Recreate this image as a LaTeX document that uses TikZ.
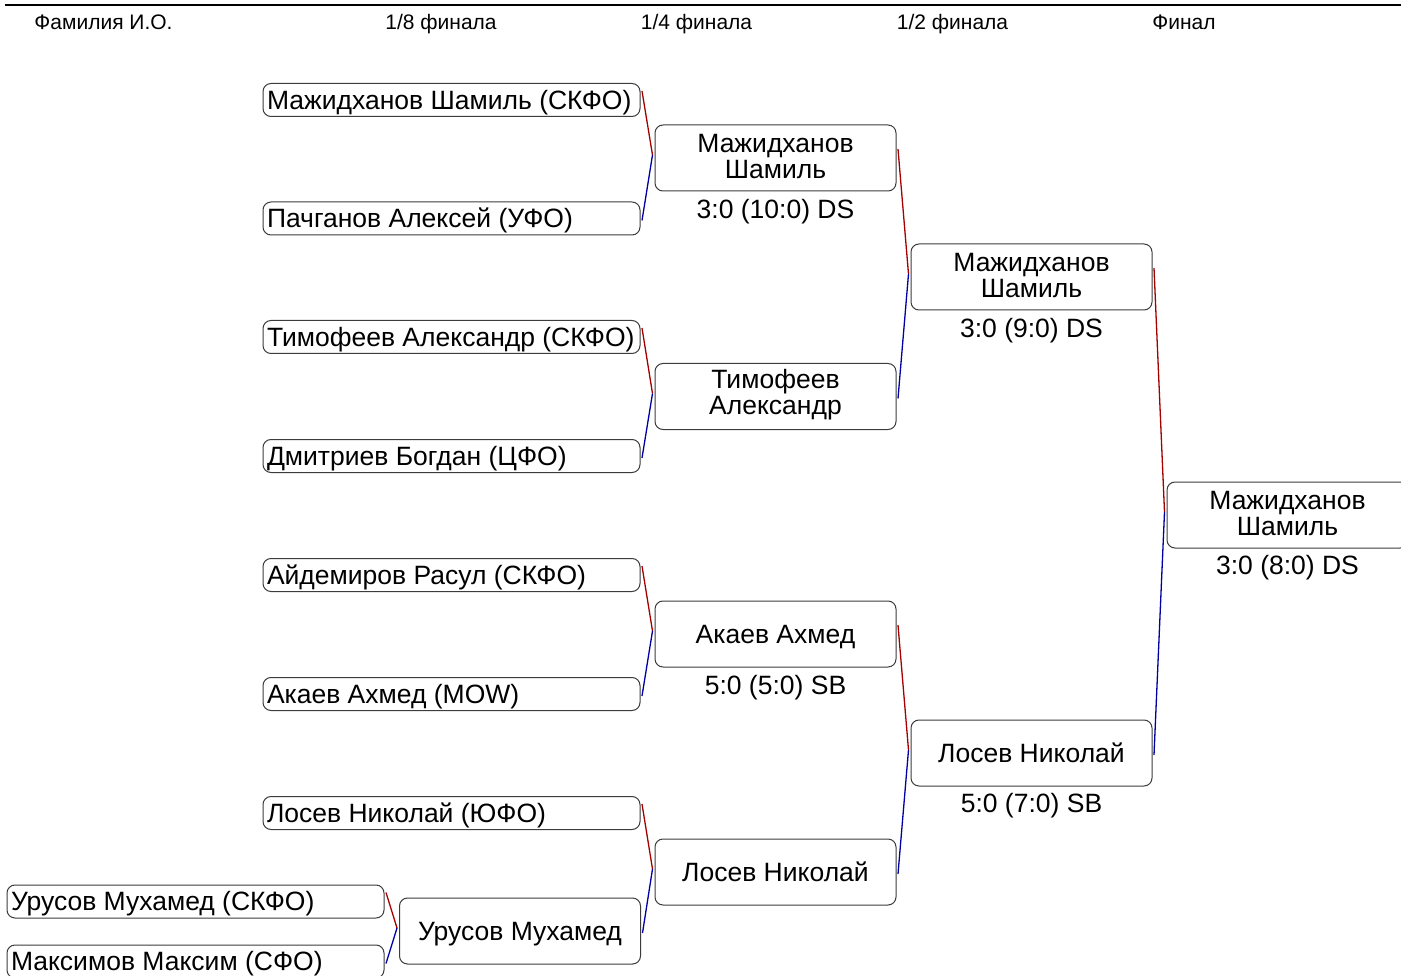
\documentclass[tikz,border=0pt]{standalone}
\usepackage{fontspec}
\setmainfont{Liberation Sans}
\usetikzlibrary{calc}
\definecolor{lred}{RGB}{165,0,0}
\definecolor{lblue}{RGB}{0,0,165}
\definecolor{bord}{RGB}{60,60,60}
\tikzset{
  box/.style={draw=bord, line width=1pt, rounded corners=8pt, fill=white, inner sep=0pt,
    font=\fontsize{26.5}{26}\selectfont},
  one/.style={text height=21pt, text depth=2.2pt},
  lbox/.style={box, one, minimum width=377pt, minimum height=33pt},
  wbox/.style={box, minimum width=241pt, minimum height=66pt, align=center},
  score/.style={font=\fontsize{26.5}{26}\selectfont, inner sep=0pt},
  head/.style={font=\fontsize{21}{23}\selectfont, inner sep=0pt, anchor=base},
  redl/.style={draw=lred, line width=1.3pt},
  bluel/.style={draw=lblue, line width=1.3pt}
}
\newcommand\lt[1]{\makebox[369pt][l]{#1}}
\newcommand\mydp[1]{\rule[-#1]{0pt}{#1}}
\newcommand\mconn[3]{%
  \draw[redl] ([xshift=1.5pt,yshift=9pt]#1.east) -- ([xshift=-2pt,yshift=3pt]#3.west);
  \draw[bluel] ([xshift=-2pt,yshift=3pt]#3.west) -- ([xshift=1.5pt,yshift=-2pt]#2.east);}
\begin{document}
\begin{tikzpicture}[x=1pt,y=-1pt]
\useasboundingbox (0,0) rectangle (1401,976);
\draw[line width=2pt] (5,5.5) -- (1401,5.5);
% headers
\node[head] (h0) at (103.5,30) {Фамилия И.О.};
\node[head] (h1) at (441,30) {1/8 финала};
\node[head] (h2) at (696.5,30) {1/4 финала};
\node[head] (h3) at (952.5,30) {1/2 финала};
\node[head] (h4) at (1184,30) {Финал};
% round of 16
\node[lbox] (a1) at (451.5,100) {\lt{Мажидханов Шамиль (СКФО)}};
\node[lbox] (a2) at (451.5,218.5) {\lt{Пачганов Алексей (УФО)}};
\node[lbox] (a3) at (451.5,337) {\lt{Тимофеев Александр (СКФО)}};
\node[lbox] (a4) at (451.5,456) {\lt{Дмитриев Богдан (ЦФО)}};
\node[lbox] (a5) at (451.5,575) {\lt{Айдемиров Расул (СКФО)}};
\node[lbox] (a6) at (451.5,694) {\lt{Акаев Ахмед (MOW)}};
\node[lbox] (a7) at (451.5,813) {\lt{Лосев Николай (ЮФО)}};
% preliminary
\node[lbox] (p1) at (195.5,901.5) {\lt{Урусов Мухамед (СКФО)}};
\node[lbox] (p2) at (195.5,961.5) {\lt{Максимов Максим (СФО)}};
\node[wbox, one] (pw) at (520,931) {Урусов Мухамед};
% quarter
\node[wbox] (q1) at (775.5,158) {Мажидханов\\Шамиль\mydp{4pt}};
\node[wbox] (q2) at (775.5,396.5) {Тимофеев\\Александр\mydp{9.6pt}};
\node[wbox, one] (q3) at (775.5,634) {Акаев Ахмед};
\node[wbox, one] (q4) at (775.5,872) {Лосев Николай};
% semi
\node[wbox] (s1) at (1031.5,277) {Мажидханов\\Шамиль\mydp{4pt}};
\node[wbox, one] (s2) at (1031.5,753) {Лосев Николай};
% final
\node[wbox] (f) at (1287.5,515) {Мажидханов\\Шамиль\mydp{4pt}};
% scores
\node[score] (sc1) at ([yshift=-20pt]q1.south) {3:0 (10:0) DS};
\node[score] (sc3) at ([yshift=-20pt]q3.south) {5:0 (5:0) SB};
\node[score] (sc5) at ([yshift=-20pt]s1.south) {3:0 (9:0) DS};
\node[score] (sc6) at ([yshift=-19pt]s2.south) {5:0 (7:0) SB};
\node[score] (sc7) at ([yshift=-19pt]f.south) {3:0 (8:0) DS};
% connectors
\mconn{p1}{p2}{pw}
\mconn{a1}{a2}{q1}
\mconn{a3}{a4}{q2}
\mconn{a5}{a6}{q3}
\mconn{a7}{pw}{q4}
\mconn{q1}{q2}{s1}
\mconn{q3}{q4}{s2}
\mconn{s1}{s2}{f}
\end{tikzpicture}
\end{document}
